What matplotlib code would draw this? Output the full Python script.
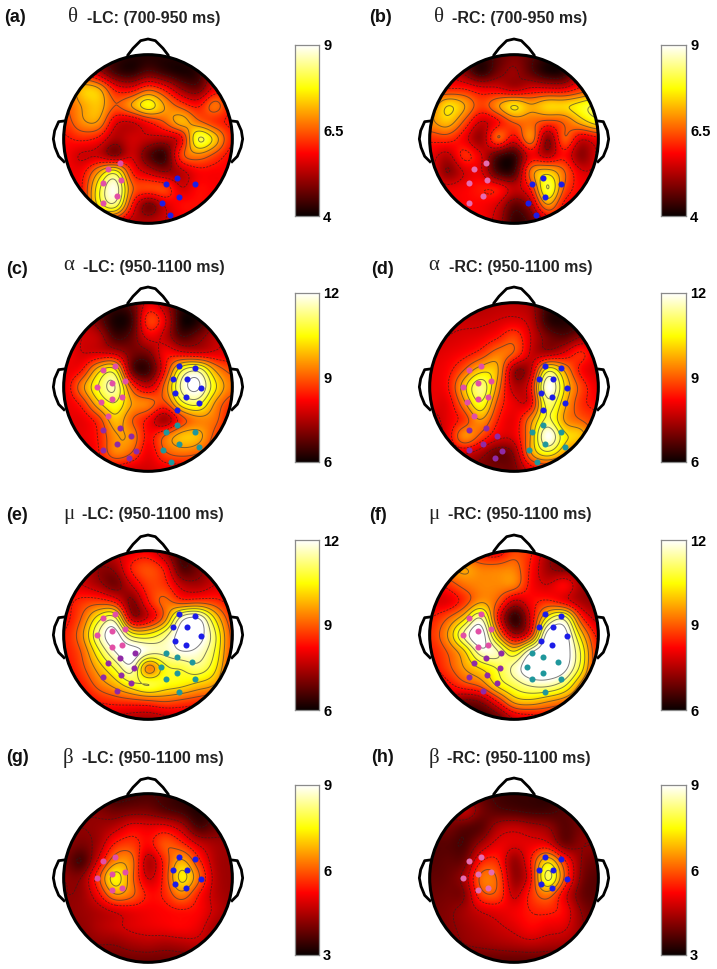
import numpy as np
import matplotlib
matplotlib.use("Agg")
import matplotlib.pyplot as plt
from matplotlib.patches import Circle

W, H = 717, 969
FONT = ["Liberation Sans", "DejaVu Sans"]

# Scalp maps: values read on an 11x11 grid (top row first), spacing 50 units, head radius 253 units
MAP_A = [[5.8,5.5,4.9,4.4,4.2,4.2,4.2,4.3,4.8,5.5,5.8],
         [5.9,5.9,5.2,4.4,4.2,4.6,4.3,4.1,4.3,5.5,5.8],
         [6.2,7.3,7.2,5.9,5.7,6.4,5.9,5.0,4.7,5.7,5.8],
         [6.4,7.0,7.3,6.5,7.1,7.9,7.0,6.3,5.9,6.8,5.9],
         [6.2,6.9,7.0,5.6,5.4,5.9,6.5,7.3,6.6,6.1,5.9],
         [5.9,6.1,5.9,5.2,5.5,5.4,5.3,5.7,8.2,7.4,6.0],
         [5.8,5.4,5.4,4.8,5.5,4.6,4.3,6.4,6.8,6.3,5.8],
         [5.8,5.8,7.0,8.0,6.0,5.4,5.0,5.3,5.8,5.8,5.8],
         [5.8,5.9,7.8,9.0,6.6,6.4,6.4,5.5,5.9,5.8,5.8],
         [5.8,5.8,7.6,8.4,6.0,4.7,5.5,5.9,5.9,5.8,5.8],
         [5.8,5.8,5.9,5.8,5.3,5.3,5.5,5.7,5.8,5.8,5.8]]
MAP_B = [[5.4,5.2,4.6,4.3,4.6,4.9,4.6,4.3,4.6,5.2,5.4],
         [5.8,5.5,4.9,4.2,4.8,5.1,4.6,4.1,4.2,5.5,5.7],
         [6.1,6.0,6.0,5.7,5.6,5.2,5.6,5.6,5.6,6.1,6.5],
         [6.6,7.6,7.1,6.3,7.0,7.7,7.1,7.5,7.5,7.8,8.2],
         [6.9,7.3,6.4,5.4,5.8,6.5,6.6,6.3,6.5,7.2,7.8],
         [6.1,6.2,5.7,5.0,6.7,5.7,7.0,4.8,6.6,5.5,5.8],
         [5.7,5.3,6.2,5.6,4.5,4.3,5.7,5.2,5.9,4.9,5.6],
         [5.7,4.9,5.5,5.6,4.4,4.4,6.8,7.4,6.6,5.6,5.6],
         [5.8,5.7,5.8,6.0,6.0,5.4,6.0,8.2,6.4,5.8,5.8],
         [5.8,5.7,5.8,5.8,5.5,4.6,5.2,7.0,5.8,5.8,5.8],
         [5.8,5.8,5.8,5.8,5.3,4.3,4.6,5.5,5.8,5.8,5.8]]
MAP_C = [[8.0,7.5,7.0,6.5,6.8,8.0,7.4,6.4,6.8,7.4,8.0],
         [8.0,7.8,6.9,6.1,6.4,8.8,8.0,6.1,6.2,7.3,8.0],
         [8.0,7.8,7.6,6.5,6.8,8.0,7.6,6.6,7.0,7.6,8.0],
         [8.2,7.8,7.8,7.7,7.0,7.0,8.2,8.0,7.8,7.9,8.0],
         [8.0,8.3,10.0,10.6,6.8,6.4,8.3,10.8,11.4,9.6,8.8],
         [8.0,9.4,10.8,11.6,8.8,7.7,9.2,11.6,12.2,10.4,9.2],
         [8.0,8.5,10.0,10.8,9.6,9.4,8.8,10.6,11.0,9.5,8.6],
         [8.0,8.0,8.6,10.0,9.0,8.2,7.2,8.6,9.3,9.2,8.2],
         [8.0,8.0,8.4,9.5,9.5,8.2,9.2,10.0,9.9,8.8,8.0],
         [8.0,7.8,8.3,9.4,9.0,8.0,8.9,9.2,9.0,8.4,8.0],
         [8.0,8.0,8.0,8.0,7.8,7.8,8.0,8.0,8.0,8.0,8.0]]
MAP_D = [[7.6,7.5,7.5,7.5,7.6,7.6,7.4,6.5,6.6,7.0,7.4],
         [7.6,7.7,7.7,7.7,7.8,7.9,7.6,6.3,6.2,6.5,7.4],
         [7.7,7.8,7.9,8.0,8.3,8.8,7.8,7.0,6.7,7.2,7.5],
         [7.9,8.0,8.2,8.6,9.3,9.0,7.7,7.4,7.9,8.6,7.8],
         [8.0,8.2,9.0,10.0,9.8,7.2,7.6,10.8,9.6,8.2,7.8],
         [8.0,8.3,10.0,11.4,9.4,7.5,8.2,12.2,10.2,8.8,8.0],
         [8.0,8.0,9.4,10.8,8.8,8.0,8.0,11.2,9.8,8.6,8.2],
         [7.6,8.0,8.6,9.6,8.4,8.0,9.4,11.0,9.5,9.0,8.6],
         [7.4,8.0,9.6,8.8,8.0,8.0,9.6,12.2,10.4,10.0,8.4],
         [7.4,7.8,7.8,7.4,6.8,7.2,9.6,10.6,9.6,8.5,7.9],
         [7.5,7.5,7.3,7.0,7.0,7.0,8.0,8.2,8.0,7.8,7.6]]
MAP_E = [[7.8,7.6,7.6,7.8,8.0,8.1,7.3,6.5,7.0,7.6,7.8],
         [8.0,7.8,7.2,7.3,8.5,8.9,8.3,6.6,7.0,7.6,7.8],
         [8.0,7.8,7.4,6.9,7.8,8.7,8.6,7.6,7.4,7.8,7.9],
         [8.2,8.6,8.7,8.3,7.0,8.4,9.2,8.6,8.7,8.6,8.2],
         [8.2,9.0,10.5,11.2,7.4,7.8,9.2,11.8,12.2,10.2,8.6],
         [8.4,9.4,11.4,12.5,10.6,10.4,11.2,12.4,12.4,11.0,8.8],
         [8.4,9.0,10.6,12.0,12.5,11.8,11.6,12.0,11.8,10.8,8.8],
         [8.2,8.8,9.8,10.8,11.8,9.0,10.6,10.8,11.2,10.4,8.6],
         [8.0,8.4,9.2,9.8,10.6,11.0,10.6,10.4,10.0,9.6,8.4],
         [8.0,8.0,8.4,8.6,8.7,8.8,9.0,8.8,8.6,8.4,8.0],
         [7.8,7.8,7.8,7.7,7.5,7.4,7.6,7.8,7.8,7.8,7.8]]
MAP_F = [[9.0,8.6,8.6,8.2,8.0,8.8,8.5,7.4,7.0,7.6,7.8],
         [8.4,9.4,9.7,9.3,9.3,9.3,8.3,7.3,7.0,7.4,7.6],
         [7.9,8.6,9.2,9.4,9.4,9.4,8.2,7.8,8.3,7.4,7.2],
         [7.9,7.9,8.6,9.5,9.0,7.6,8.2,8.5,8.0,7.4,7.2],
         [8.4,9.0,10.0,11.6,8.3,6.2,7.9,10.5,11.4,8.6,7.6],
         [8.6,9.6,11.6,12.6,9.6,7.3,8.4,12.5,12.5,10.0,8.2],
         [8.4,9.0,10.0,11.8,11.6,10.2,12.0,12.6,12.5,10.8,8.4],
         [8.2,8.8,9.6,10.2,10.8,11.6,12.6,12.6,12.3,10.6,8.4],
         [7.8,8.2,8.8,9.2,10.4,11.0,11.5,11.6,11.0,9.4,8.2],
         [7.4,7.6,7.0,7.2,8.4,9.8,10.0,9.6,9.2,8.6,8.0],
         [7.2,7.0,6.6,6.4,6.8,7.8,8.0,8.2,8.0,7.8,7.8]]
MAP_G = [[4.2,4.2,3.6,3.4,3.5,3.6,3.5,3.3,3.4,3.8,4.2],
         [4.2,4.2,4.1,3.9,4.0,4.0,3.7,3.5,3.2,3.6,4.2],
         [4.3,4.2,4.3,4.6,5.1,5.0,5.1,4.6,3.6,3.9,4.2],
         [4.2,4.0,4.4,5.5,5.7,5.2,6.0,5.6,4.8,4.4,4.3],
         [4.0,3.5,4.9,6.4,6.3,4.4,5.6,6.8,5.6,4.5,4.3],
         [4.2,4.2,5.8,7.6,6.2,4.7,5.6,7.5,6.2,4.6,4.3],
         [4.2,4.3,5.2,6.6,6.2,5.3,5.5,6.4,5.4,4.6,4.3],
         [4.2,4.3,4.5,4.8,5.0,5.1,5.2,5.3,5.2,4.7,4.3],
         [4.2,4.2,4.5,4.7,4.9,5.0,5.1,5.2,5.0,4.4,4.2],
         [4.2,4.1,4.2,4.2,4.4,4.5,4.4,4.5,4.6,4.3,4.2],
         [4.0,4.0,4.0,3.9,3.9,3.9,3.9,3.9,4.0,4.0,4.0]]
MAP_H = [[4.0,4.2,4.1,3.8,3.5,3.4,3.4,3.3,3.5,3.9,4.1],
         [4.0,4.2,4.7,4.0,3.7,3.6,3.5,3.5,3.7,4.0,4.1],
         [3.9,4.0,3.7,3.7,4.5,4.7,4.5,4.3,3.7,4.0,4.1],
         [3.7,3.7,3.6,4.4,5.0,4.9,5.0,5.0,3.9,4.2,4.2],
         [3.7,3.8,3.9,5.4,5.5,4.2,5.4,7.2,5.6,4.2,3.9],
         [3.8,3.9,4.4,6.2,6.0,4.2,5.2,8.2,6.0,4.1,3.7],
         [3.9,4.0,4.1,5.8,5.9,4.6,5.6,6.3,5.0,3.9,3.7],
         [4.0,4.1,4.4,4.8,5.0,5.1,5.4,5.5,5.2,4.2,3.8],
         [4.0,4.1,4.3,4.5,4.7,4.9,5.2,5.0,4.9,4.3,3.9],
         [4.0,4.0,4.2,4.3,4.4,4.5,4.6,4.5,4.4,4.2,3.9],
         [3.8,3.8,3.8,3.8,3.8,3.8,3.8,3.8,3.8,3.8,3.8]]

# Electrode groups, as offsets from the head centre (head radius 253)
PINK_AB = [(-83,-72),(-120,-89),(-136,-131),(-82,-124),(-94,-172),(-135,-191)]
BLUE_AB = [(87,-117),(54,-135),(142,-134),(92,-174),(43,-192),(67,-227)]
PINK_7 = [(-134,51),(-99,62),(-68,18),(-108,11),(-152,0),(-109,-37),(-77,-29)]
BLUE_7 = [(94,64),(141,56),(76,25),(116,23),(158,-2),(82,-19),(113,-30)]
PINK_CD = PINK_7 + [(-141,-46),(-120,-87)]
BLUE_CD = BLUE_7 + [(153,-47),(86,-69)]
PURPLE_CD = [(-135,-128),(-83,-123),(-50,-146),(-93,-170),(-135,-190),(-37,-191),(-58,-214)]
TEAL_CD = [(87,-115),(54,-134),(142,-134),(92,-171),(44,-190),(152,-180),(68,-226)]
PURPLE_EF = [(-40,-54),(-83,-69),(-120,-85),(-43,-99),(-82,-121),(-135,-127),(-50,-144),(-93,-169)]
TEAL_EF = [(54,-53),(86,-67),(131,-81),(38,-96),(87,-113),(54,-131),(142,-131),(93,-170)]

C_PINK, C_BLUE, C_PURPLE, C_TEAL = "#e24fa6", "#1c1ce8", "#8f2aa6", "#1f979c"

PANELS = [
    dict(tag="(a)", sym="\u03b8", txt="-LC: (700-950 ms)", z=MAP_A, rng=(4, 9), ticks=("4", "6.5", "9"),
         c=(148, 139), cb=(295, 45, 319, 216), tagxy=(4, 17), symx=68, txtx=87, ty=19,
         el=[(PINK_AB, C_PINK), (BLUE_AB, C_BLUE)]),
    dict(tag="(b)", sym="\u03b8", txt="-RC: (700-950 ms)", z=MAP_B, rng=(4, 9), ticks=("4", "6.5", "9"),
         c=(514, 139), cb=(661, 45, 686, 216), tagxy=(369, 17), symx=434, txtx=452, ty=19,
         el=[(PINK_AB, "#e66cb0"), (BLUE_AB, C_BLUE)]),
    dict(tag="(c)", sym="\u03b1", txt="-LC: (950-1100 ms)", z=MAP_C, rng=(6, 12), ticks=("6", "9", "12"),
         c=(148, 387), cb=(295, 293, 319, 462), tagxy=(6, 270), symx=63, txtx=83, ty=267,
         el=[(PINK_CD, C_PINK), (BLUE_CD, C_BLUE), (PURPLE_CD, C_PURPLE), (TEAL_CD, C_TEAL)]),
    dict(tag="(d)", sym="\u03b1", txt="-RC: (950-1100 ms)", z=MAP_D, rng=(6, 12), ticks=("6", "9", "12"),
         c=(514, 387), cb=(661, 293, 686, 462), tagxy=(371, 270), symx=428, txtx=449, ty=267,
         el=[(PINK_CD, C_PINK), (BLUE_CD, C_BLUE), (PURPLE_CD, C_PURPLE), (TEAL_CD, C_TEAL)]),
    dict(tag="(e)", sym="\u03bc", txt="-LC: (950-1100 ms)", z=MAP_E, rng=(6, 12), ticks=("6", "9", "12"),
         c=(148, 635), cb=(295, 540, 319, 710), tagxy=(6, 515), symx=63, txtx=82, ty=515,
         el=[(PINK_7, C_PINK), (BLUE_7, C_BLUE), (PURPLE_EF, C_PURPLE), (TEAL_EF, C_TEAL)]),
    dict(tag="(f)", sym="\u03bc", txt="-RC: (950-1100 ms)", z=MAP_F, rng=(6, 12), ticks=("6", "9", "12"),
         c=(514, 635), cb=(661, 540, 686, 710), tagxy=(369, 515), symx=428, txtx=448, ty=515,
         el=[(PINK_7, C_PINK), (BLUE_7, C_BLUE), (PURPLE_EF, C_PURPLE), (TEAL_EF, C_TEAL)]),
    dict(tag="(g)", sym="\u03b2", txt="-LC: (950-1100 ms)", z=MAP_G, rng=(3, 9), ticks=("3", "6", "9"),
         c=(148, 878), cb=(295, 785, 319, 955), tagxy=(6, 757), symx=63, txtx=82, ty=759,
         el=[(PINK_7, C_PINK), (BLUE_7, C_BLUE)]),
    dict(tag="(h)", sym="\u03b2", txt="-RC: (950-1100 ms)", z=MAP_H, rng=(3, 9), ticks=("3", "6", "9"),
         c=(514, 878), cb=(661, 785, 686, 955), tagxy=(371, 757), symx=429, txtx=447, ty=759,
         el=[(PINK_7, "#e66cb0"), (BLUE_7, C_BLUE)]),
]

R = 253.0
SPAN = 330.0


def catmull_axis(a, u, axis):
    a = np.moveaxis(a, axis, 0)
    n = a.shape[0]
    i = np.clip(np.floor(u).astype(int), 0, n - 2)
    t = (u - i).reshape((-1,) + (1,) * (a.ndim - 1))
    p0 = a[np.clip(i - 1, 0, n - 1)]
    p1 = a[i]
    p2 = a[i + 1]
    p3 = a[np.clip(i + 2, 0, n - 1)]
    out = 0.5 * (2 * p1 + (p2 - p0) * t + (2 * p0 - 5 * p1 + 4 * p2 - p3) * t ** 2
                 + (3 * p1 - p0 - 3 * p2 + p3) * t ** 3)
    return np.moveaxis(out, 0, axis)


def upsample(z, n=221):
    z = np.asarray(z, float)[::-1]
    u = np.linspace(0, 10, n)
    out = catmull_axis(catmull_axis(z, u, 0), u, 1)
    rad = 12
    k = np.exp(-0.5 * (np.arange(-rad, rad + 1) / 4.5) ** 2)
    k /= k.sum()
    pad = np.pad(out, rad, mode="edge")
    pad = np.apply_along_axis(lambda r: np.convolve(r, k, mode="same"), 0, pad)
    pad = np.apply_along_axis(lambda r: np.convolve(r, k, mode="same"), 1, pad)
    return pad[rad:-rad, rad:-rad]


fig = plt.figure(figsize=(W / 100, H / 100), dpi=100, facecolor="white")


def box(x0, y0, x1, y1):
    return [x0 / W, 1 - y1 / H, (x1 - x0) / W, (y1 - y0) / H]


NOSE_X = [-61, -45, -22, 0, 22, 45, 61]
NOSE_Y = [251, 272, 295, 300, 295, 272, 251]
EAR_X = [252, 268, 280, 284, 279, 268, 252]
EAR_Y = [54, 52, 25, 0, -25, -52, -68]

for p in PANELS:
    cx, cy = p["c"]
    half = SPAN / 3
    ax = fig.add_axes(box(cx - half, cy - half, cx + half, cy + half))
    ax.set_xlim(-SPAN, SPAN)
    ax.set_ylim(-SPAN, SPAN)
    ax.axis("off")
    vmin, vmax = p["rng"]
    Z = upsample(p["z"])
    gx = np.linspace(-250, 250, Z.shape[1])
    gy = np.linspace(-250, 250, Z.shape[0])
    # the head edge lies a little beyond the grid, so extend the picture by its edge values
    Zx = np.pad(Z, 8, mode="edge")
    step = gx[1] - gx[0]
    ext = 250 + 8 * step
    clip = Circle((0, 0), R, transform=ax.transData)
    im = ax.imshow(Zx, origin="lower", extent=(-ext, ext, -ext, ext), cmap="hot", vmin=vmin, vmax=vmax,
                   interpolation="bilinear", zorder=1)
    im.set_clip_path(clip)
    ax.set_xlim(-SPAN, SPAN)
    ax.set_ylim(-SPAN, SPAN)
    levels = np.linspace(vmin, vmax, 11)
    mid = 0.5 * (vmin + vmax)
    low = levels[levels < mid]
    high = levels[levels >= mid]
    c1 = ax.contour(gx, gy, Z, levels=low, colors="#222222", linewidths=0.6, alpha=0.7,
                    linestyles=[(0, (2.5, 1.5))], zorder=2)
    c2 = ax.contour(gx, gy, Z, levels=high, colors="#3a3a3a", linewidths=0.7, alpha=0.65,
                    linestyles="solid", zorder=2)
    c1.set_clip_path(clip)
    c2.set_clip_path(clip)
    ax.add_patch(Circle((0, 0), R, fill=False, ec="black", lw=2.2, zorder=4))
    ax.plot(NOSE_X, NOSE_Y, color="black", lw=2.0, zorder=3, solid_capstyle="round")
    ax.plot(EAR_X, EAR_Y, color="black", lw=2.0, zorder=3)
    ax.plot([-v for v in EAR_X], EAR_Y, color="black", lw=2.0, zorder=3)
    for pts, col in p["el"]:
        xs = [q[0] for q in pts]
        ys = [q[1] for q in pts]
        ax.scatter(xs, ys, s=19, c=col, linewidths=0, zorder=5)

    x0, y0, x1, y1 = p["cb"]
    cax = fig.add_axes(box(x0, y0, x1, y1))
    grad = np.linspace(vmin, vmax, 256)[:, None]
    cax.imshow(grad, origin="lower", extent=(0, 1, vmin, vmax), aspect="auto", cmap="hot", vmin=vmin, vmax=vmax)
    cax.set_xticks([])
    cax.yaxis.tick_right()
    cax.set_yticks([vmin, 0.5 * (vmin + vmax), vmax])
    cax.set_yticklabels(p["ticks"], fontfamily=FONT, fontweight="bold", fontsize=10.5)
    cax.tick_params(axis="y", length=0, pad=3)
    for s in cax.spines.values():
        s.set_color("#8a8a8a")
        s.set_linewidth(0.9)

    fig.text(p["tagxy"][0] / W, 1 - p["tagxy"][1] / H, p["tag"], fontfamily=FONT, fontweight="bold",
             fontsize=13, va="center", ha="left", color="#111111")
    fig.text(p["symx"] / W, 1 - (p["ty"] - 1) / H, p["sym"], fontfamily=["Liberation Serif", "DejaVu Serif"],
             fontsize=15, va="center", ha="left", color="#222222")
    fig.text(p["txtx"] / W, 1 - p["ty"] / H, p["txt"], fontfamily=FONT, fontweight="bold",
             fontsize=11.5, va="center", ha="left", color="#222222")

fig.savefig("out.png", dpi=100)
